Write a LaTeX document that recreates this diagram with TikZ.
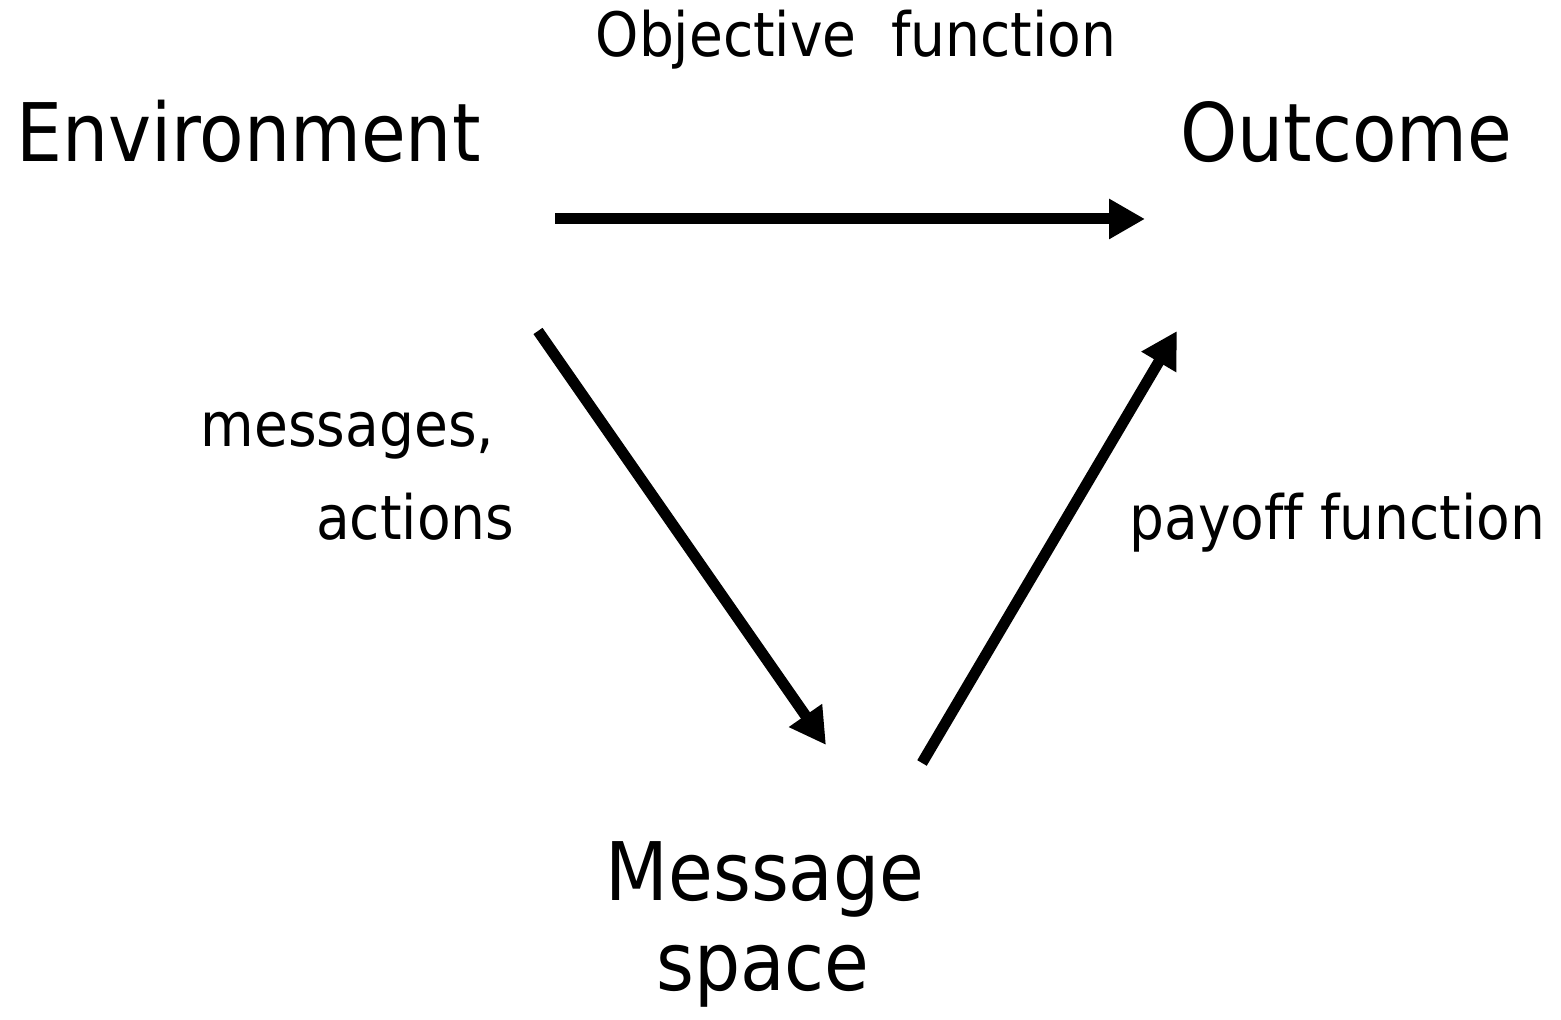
\documentclass[tikz,border=0pt]{standalone}
\usepackage{fontspec}
\setmainfont{DejaVu Sans Condensed}[Ligatures=NoCommon]
\usetikzlibrary{arrows.meta}
\begin{document}
\begin{tikzpicture}[line join=round,>={Triangle[length=0.36cm,width=0.38cm]},
	big/.style={font=\fontsize{23}{27}\selectfont,inner sep=0pt,anchor=base},
	small/.style={font=\fontsize{17.4}{21}\selectfont,inner sep=0pt,anchor=base},
	link/.style={->,line width=0.11cm}]
	\useasboundingbox (0,0) rectangle (15.61,10.20);
	\path 
	(5.55,8.01) coordinate (E1)
	(11.45,8.01) coordinate (O1)
	(5.38,6.89) coordinate (E2)
	(8.26,2.75) coordinate (M1)
	(9.22,2.57) coordinate (M2)
	(11.77,6.89) coordinate (O2)
	;
	\node[big] (env) at (2.485,8.58) {Environment};
	\node[big] (out) at (13.465,8.58) {Outcome};
	\node[big] (msgA) at (7.65,1.19) {Message};
	\node[big] (msgB) at (7.63,0.29) {space};
	\node[small] (obj) at (8.56,9.63) {Objective\ \ function};
	\node[small,anchor=base east] (lmsg) at (4.95,5.73) {messages,};
	\node[small,anchor=base east] (lact) at (5.15,4.80) {actions};
	\node[small] (pay) at (13.375,4.80) {payoff function};
	\draw[link] (E1)--(O1);
	\draw[link] (E2)--(M1);
	\draw[link] (M2)--(O2);
\end{tikzpicture}
\end{document}
